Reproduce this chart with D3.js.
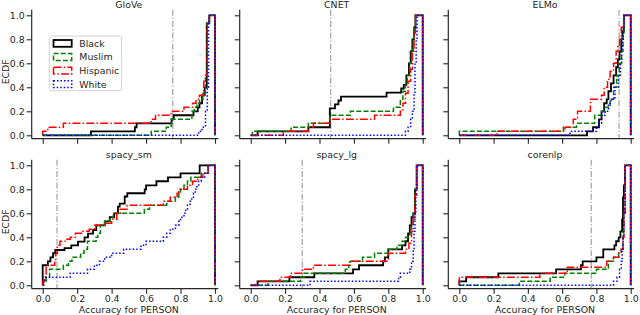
<!DOCTYPE html>
<html>
<head>
<meta charset="utf-8">
<script src="https://cdn.jsdelivr.net/npm/d3@7"></script>
<style>
  body { margin: 0; background: #fff; }
  svg { display: block; font-family: "DejaVu Sans", sans-serif; }
</style>
</head>
<body>
<div id="chart"></div>
<script>
// ECDF steps: [accuracy, cumulative share] - value holds from x onwards
const panelNames = ["GloVe", "CNET", "ELMo", "spacy_sm", "spacy_lg", "corenlp"];
const groups = ["Black", "Muslim", "Hispanic", "White"];
const thresholds = [0.755, 0.465, 0.932, 0.083, 0.30, 0.77];
const tickValues = [0, 0.2, 0.4, 0.6, 0.8, 1.0];

const gloveBlack = [[0.28,0.033],[0.535,0.067],[0.545,0.1],[0.748,0.133],[0.76,0.167],[0.875,0.2],[0.9,0.233],[0.91,0.267],[0.925,0.333],[0.94,0.4],[0.952,0.933],[0.967,1]];
const gloveMuslim = [[0.63,0.033],[0.717,0.067],[0.746,0.133],[0.866,0.2],[0.88,0.233],[0.895,0.267],[0.91,0.3],[0.93,0.35],[0.945,0.5],[0.955,0.933],[0.967,1]];
const gloveHispanic = [[0,0.033],[0.03,0.067],[0.12,0.1],[0.63,0.133],[0.655,0.167],[0.745,0.2],[0.82,0.233],[0.87,0.267],[0.89,0.3],[0.91,0.333],[0.935,0.45],[0.945,0.5],[0.955,0.933],[0.967,1]];
const gloveWhite = [[0.905,0.033],[0.925,0.067],[0.945,0.2],[0.955,0.4],[0.962,0.933],[0.967,1]];

const cnetBlack = [[0.04,0.033],[0.335,0.067],[0.46,0.225],[0.49,0.258],[0.51,0.29],[0.525,0.322],[0.79,0.355],[0.875,0.39],[0.89,0.42],[0.905,0.5],[0.92,0.6],[0.93,0.7],[0.94,0.8],[0.95,0.9],[0.958,1]];
const cnetMuslim = [[0.01,0.033],[0.235,0.067],[0.335,0.1],[0.46,0.167],[0.58,0.2],[0.83,0.233],[0.87,0.3],[0.885,0.367],[0.9,0.433],[0.91,0.5],[0.925,0.6],[0.935,0.7],[0.945,0.8],[0.95,0.9],[0.958,1]];
const cnetHispanic = [[0.19,0.033],[0.335,0.067],[0.365,0.1],[0.46,0.133],[0.72,0.167],[0.87,0.2],[0.885,0.267],[0.9,0.35],[0.915,0.45],[0.93,0.55],[0.94,0.7],[0.95,0.85],[0.958,1]];
const cnetWhite = [[0.9,0.033],[0.915,0.067],[0.93,0.133],[0.94,0.2],[0.95,0.35],[0.955,0.6],[0.962,0.8],[0.967,1]];

const elmoBlack = [[0.745,0.033],[0.78,0.067],[0.815,0.133],[0.83,0.2],[0.845,0.267],[0.86,0.3],[0.87,0.367],[0.885,0.433],[0.9,0.5],[0.915,0.567],[0.925,0.633],[0.935,0.7],[0.945,0.8],[0.952,0.867],[0.96,1]];
const elmoMuslim = [[0,0.033],[0.607,0.067],[0.684,0.1],[0.79,0.167],[0.83,0.2],[0.85,0.233],[0.88,0.3],[0.9,0.4],[0.918,0.5],[0.934,0.6],[0.947,0.7],[0.955,0.85],[0.96,1]];
const elmoHispanic = [[0.218,0.033],[0.617,0.067],[0.665,0.133],[0.69,0.2],[0.765,0.3],[0.83,0.333],[0.845,0.4],[0.865,0.467],[0.88,0.533],[0.9,0.6],[0.915,0.7],[0.925,0.75],[0.935,0.8],[0.945,0.9],[0.96,1]];
const elmoWhite = [[0.646,0.033],[0.8,0.067],[0.815,0.1],[0.83,0.167],[0.85,0.2],[0.87,0.267],[0.885,0.3],[0.908,0.4],[0.928,0.5],[0.94,0.6],[0.947,0.7],[0.952,0.8],[0.957,0.9],[0.962,1]];

const smBlack = [[0,0.167],[0.03,0.2],[0.045,0.233],[0.06,0.267],[0.073,0.294],[0.127,0.31],[0.166,0.333],[0.205,0.364],[0.243,0.4],[0.263,0.43],[0.292,0.46],[0.311,0.5],[0.36,0.533],[0.389,0.567],[0.415,0.6],[0.437,0.655],[0.447,0.68],[0.476,0.74],[0.491,0.767],[0.592,0.8],[0.6,0.833],[0.66,0.867],[0.727,0.9],[0.8,0.933],[0.911,1]];
const smMuslim = [[0.005,0.033],[0.02,0.067],[0.04,0.133],[0.12,0.167],[0.15,0.2],[0.17,0.233],[0.22,0.267],[0.24,0.3],[0.26,0.367],[0.31,0.4],[0.32,0.433],[0.335,0.5],[0.36,0.533],[0.39,0.567],[0.41,0.6],[0.59,0.633],[0.62,0.667],[0.72,0.7],[0.77,0.733],[0.79,0.767],[0.8,0.8],[0.82,0.833],[0.84,0.867],[0.86,0.9],[0.92,0.933],[0.96,1]];
const smHispanic = [[0,0.033],[0.01,0.067],[0.02,0.167],[0.07,0.2],[0.075,0.267],[0.085,0.333],[0.1,0.367],[0.13,0.383],[0.16,0.4],[0.19,0.433],[0.23,0.45],[0.27,0.467],[0.3,0.5],[0.36,0.517],[0.4,0.55],[0.43,0.6],[0.45,0.633],[0.49,0.667],[0.7,0.7],[0.74,0.733],[0.78,0.767],[0.79,0.8],[0.84,0.833],[0.87,0.867],[0.9,0.9],[0.93,0.933],[0.96,1]];
const smWhite = [[0.005,0.033],[0.015,0.067],[0.16,0.1],[0.26,0.133],[0.3,0.167],[0.33,0.2],[0.36,0.233],[0.4,0.267],[0.47,0.3],[0.57,0.333],[0.6,0.367],[0.7,0.4],[0.72,0.433],[0.74,0.467],[0.77,0.5],[0.79,0.533],[0.8,0.567],[0.82,0.6],[0.83,0.633],[0.84,0.667],[0.855,0.7],[0.865,0.733],[0.875,0.767],[0.885,0.8],[0.895,0.833],[0.905,0.867],[0.92,0.9],[0.94,0.933],[0.96,1]];

const lgBlack = [[0.04,0.033],[0.225,0.067],[0.37,0.1],[0.595,0.133],[0.63,0.167],[0.77,0.2],[0.78,0.233],[0.8,0.3],[0.88,0.333],[0.9,0.367],[0.915,0.433],[0.925,0.5],[0.935,0.567],[0.945,0.6],[0.955,0.8],[0.965,1]];
const lgMuslim = [[0.1,0.033],[0.29,0.067],[0.31,0.1],[0.55,0.133],[0.57,0.167],[0.58,0.2],[0.65,0.233],[0.72,0.267],[0.8,0.3],[0.85,0.333],[0.88,0.367],[0.9,0.4],[0.925,0.433],[0.935,0.5],[0.945,0.6],[0.955,0.8],[0.965,1]];
const lgHispanic = [[0.04,0.033],[0.17,0.067],[0.23,0.1],[0.3,0.133],[0.365,0.167],[0.575,0.2],[0.8,0.267],[0.9,0.3],[0.92,0.35],[0.935,0.45],[0.945,0.55],[0.955,0.75],[0.965,1]];
const lgWhite = [[0.345,0.033],[0.86,0.067],[0.87,0.1],[0.925,0.133],[0.935,0.2],[0.945,0.3],[0.95,0.45],[0.955,0.6],[0.96,0.8],[0.965,1]];

const coreBlack = [[0,0.033],[0.04,0.067],[0.228,0.1],[0.565,0.133],[0.71,0.167],[0.72,0.2],[0.8,0.233],[0.84,0.3],[0.905,0.333],[0.915,0.367],[0.93,0.4],[0.94,0.45],[0.95,0.55],[0.955,0.733],[0.96,0.833],[0.967,1]];
const coreMuslim = [[0.35,0.033],[0.53,0.067],[0.615,0.1],[0.8,0.133],[0.87,0.2],[0.9,0.233],[0.93,0.267],[0.945,0.3],[0.955,0.45],[0.96,0.6],[0.967,1]];
const coreHispanic = [[0,0.067],[0.47,0.1],[0.63,0.15],[0.86,0.2],[0.9,0.233],[0.93,0.267],[0.945,0.3],[0.955,0.4],[0.96,0.6],[0.967,1]];
const coreWhite = [[0.9,0.033],[0.92,0.067],[0.935,0.133],[0.945,0.2],[0.95,0.3],[0.955,0.4],[0.96,0.6],[0.967,1]];

const seriesByPanel = [
    [gloveBlack, gloveMuslim, gloveHispanic, gloveWhite],
    [cnetBlack, cnetMuslim, cnetHispanic, cnetWhite],
    [elmoBlack, elmoMuslim, elmoHispanic, elmoWhite],
    [smBlack, smMuslim, smHispanic, smWhite],
    [lgBlack, lgMuslim, lgHispanic, lgWhite],
    [coreBlack, coreMuslim, coreHispanic, coreWhite]
];

const styles = {
    Black:    {color: "#000000", dash: null,            width: 1.8},
    Muslim:   {color: "#008000", dash: "5,2.2",         width: 1.5},
    Hispanic: {color: "#ff0000", dash: "8,2.2,1.5,2.2", width: 1.5},
    White:    {color: "#0000ff", dash: "1.5,2",         width: 1.5}
};

const ink = "#262626";
const fontSize = 9.4;

const svg = d3.select("#chart").append("svg")
    .attr("width", 640)
    .attr("height", 315);

// panel geometry (pixel positions of data 0 and 1)
const colLeft = [42.7, 250.7, 459.3],
    colWidth = [172.3, 172, 171.4],
    rowBase = [135.3, 285.3],
    rowH = 120;

panelNames.forEach((name, i) => {
    const col = i % 3, row = Math.floor(i / 3);
    const x = d3.scaleLinear().domain([0, 1]).range([colLeft[col], colLeft[col] + colWidth[col]]);
    const y = d3.scaleLinear().domain([0, 1]).range([rowBase[row], rowBase[row] - rowH]);
    const left = x(0) - 11, right = x(1) + 3.3,
        top = y(1) - 5.5, bottom = y(0) + 3.4;
    const g = svg.append("g");

    // threshold marker
    g.append("line")
        .attr("x1", x(thresholds[i])).attr("x2", x(thresholds[i]))
        .attr("y1", top).attr("y2", bottom)
        .style("stroke", "#a8a8a8")
        .style("stroke-width", 1.3)
        .style("stroke-dasharray", "6,2,1.3,2");

    const line = d3.line()
        .x(d => x(d[0]))
        .y(d => y(d[1]))
        .curve(d3.curveStepAfter);

    seriesByPanel[i].forEach((pts, k) => {
        const s = styles[groups[k]];
        const full = [[0, 0]].concat(pts, [[1, 1], [1, 0]]);
        g.append("path")
            .attr("d", line(full))
            .attr("fill", "none")
            .attr("stroke", s.color)
            .attr("stroke-width", s.width)
            .attr("stroke-dasharray", s.dash);
    });

    // spines
    g.append("line").attr("x1", left).attr("x2", left).attr("y1", top).attr("y2", bottom)
        .style("stroke", ink).style("stroke-width", 1.2);
    g.append("line").attr("x1", left).attr("x2", right).attr("y1", bottom).attr("y2", bottom)
        .style("stroke", ink).style("stroke-width", 1.2);

    // axes
    const xAxis = d3.axisBottom(x)
        .tickValues(tickValues)
        .tickSize(5)
        .tickSizeOuter(0)
        .tickPadding(1.5)
        .tickFormat(row === 1 ? d3.format(".1f") : "");
    const gx = g.append("g")
        .attr("transform", "translate(0," + bottom + ")")
        .call(xAxis);
    gx.select(".domain").remove();

    const yAxis = d3.axisLeft(y)
        .tickValues(tickValues)
        .tickSize(5)
        .tickSizeOuter(0)
        .tickPadding(2)
        .tickFormat(col === 0 ? d3.format(".1f") : "");
    const gy = g.append("g")
        .attr("transform", "translate(" + left + ",0)")
        .call(yAxis);
    gy.select(".domain").remove();

    [gx, gy].forEach(a => {
        a.attr("font-family", null).attr("font-size", fontSize).style("color", ink);
        a.selectAll("line").style("stroke-width", 1.1);
    });

    // titles and labels
    g.append("text")
        .attr("x", x(0.5)).attr("y", y(1) - 7.5)
        .attr("text-anchor", "middle")
        .style("font-size", fontSize + "px")
        .style("fill", ink)
        .text(name);

    if (row === 1) {
        g.append("text")
            .attr("x", x(0.5)).attr("y", 313)
            .attr("text-anchor", "middle")
            .style("font-size", fontSize + "px")
            .style("fill", ink)
            .text("Accuracy for PERSON");
    }
    if (col === 0) {
        g.append("text")
            .attr("transform", "translate(8.5," + (y(0.5) - 3.5) + ") rotate(-90)")
            .attr("text-anchor", "middle")
            .style("font-size", fontSize + "px")
            .style("fill", ink)
            .text("ECDF");
    }
});

// legend (first panel)
const legend = svg.append("g");
legend.append("rect")
    .attr("x", 49.3).attr("y", 36)
    .attr("width", 72.4).attr("height", 54.7)
    .attr("rx", 2.5)
    .style("fill", "#fff").style("fill-opacity", 0.8)
    .style("stroke", "#cccccc").style("stroke-width", 0.9);

groups.forEach((name, k) => {
    const s = styles[name];
    const cy = 43.4 + k * 13.6;
    legend.append("rect")
        .attr("x", 53.5).attr("y", cy - 3.4)
        .attr("width", 18.2).attr("height", 6.8)
        .attr("fill", "none")
        .attr("stroke", s.color)
        .attr("stroke-width", s.width)
        .attr("stroke-dasharray", s.dash);
    legend.append("text")
        .attr("x", 79.3).attr("y", cy + 3.3)
        .style("font-size", fontSize + "px")
        .style("fill", ink)
        .text(name);
});
</script>
</body>
</html>
